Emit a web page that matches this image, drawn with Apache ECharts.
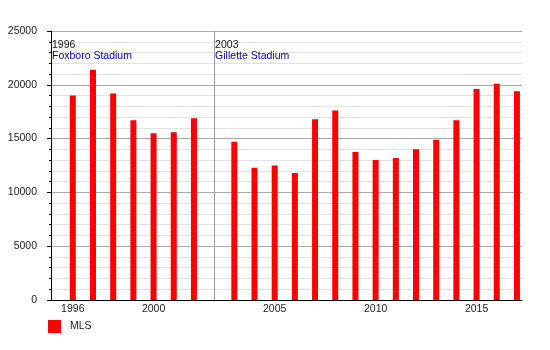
<!DOCTYPE html>
<html><head><meta charset="utf-8">
<script src="https://cdn.jsdelivr.net/npm/echarts@6/dist/echarts.min.js"></script>
<style>html,body{margin:0;padding:0;background:#fff}#c{width:550px;height:350px}</style>
</head><body><div id="c"></div>
<script>
const years = [1996,1997,1998,1999,2000,2001,2002,2003,2004,2005,2006,2007,2008,2009,2010,2011,2012,2013,2014,2015,2016,2017];
const attendance = [19000,21400,19200,16700,15500,15600,16900,14700,12300,12500,11800,16800,17600,13750,13000,13200,14000,14900,16700,19600,20100,19400];
const xTickYears = [1996,2000,2005,2010,2015];
const yTicks = [0,5000,10000,15000,20000,25000];
const markerYears = [1996,2003];
const markerNames = ['Foxboro Stadium','Gillette Stadium'];
const seriesName = 'MLS';
const gapYear = 2003;

const FONT = '"Liberation Sans", Arial, sans-serif';
const FS = 10.5;
function slot(y){ return y - years[0] + (y >= gapYear ? 1 : 0); }
const xMin = -1.08, xMax = 22.25;

const chart = echarts.init(document.getElementById('c'), null, {renderer:'canvas'});
chart.setOption({
  animation:false,
  textStyle:{fontFamily:FONT},
  grid:{left:51,right:28,top:31,bottom:50},
  legend:{show:true,left:48,top:320,padding:0,itemWidth:13,itemHeight:13,icon:'rect',
    data:[seriesName],textStyle:{fontSize:FS,color:'#222',fontFamily:FONT,padding:[0,0,0,4]}},
  xAxis:{type:'value',min:xMin,max:xMax,
    splitLine:{show:false},
    axisLine:{show:true,onZero:false,lineStyle:{color:'#000',width:1}},
    axisTick:{show:false},
    axisLabel:{customValues:xTickYears.map(slot),margin:4,fontSize:FS,color:'#222',fontFamily:FONT,
      formatter:v=>{const y=years.find(yy=>slot(yy)===v);return y===undefined?'':String(y);}}
  },
  yAxis:{type:'value',min:yTicks[0],max:yTicks[yTicks.length-1],interval:yTicks[1]-yTicks[0],
    axisLine:{show:true,onZero:false,lineStyle:{color:'#000',width:1}},
    axisTick:{show:true,length:4,lineStyle:{color:'#000'}},
    minorTick:{show:true,splitNumber:5,length:2,lineStyle:{color:'#000'}},
    splitLine:{show:true,lineStyle:{color:'#aaaaaa',width:1}},
    minorSplitLine:{show:true,lineStyle:{color:'#e2e2e2',width:1}},
    axisLabel:{margin:14,fontSize:FS,color:'#222',fontFamily:FONT,formatter:v=>String(v)}
  },
  series:[{
    name:seriesName,type:'bar',barWidth:6,
    itemStyle:{color:'#ff0000'},
    data:years.map((y,i)=>[slot(y),attendance[i]]),
    markLine:{silent:true,symbol:'none',animation:false,
      label:{show:false},
      lineStyle:{color:'#999999',type:'solid',width:1},
      data:markerYears.slice(1).map(y=>({xAxis:slot(y)-1}))
    }
  }]
});

const graphics = [];
markerYears.forEach((y,i)=>{
  const xv = i===0 ? xMin : slot(y)-1;
  const px = chart.convertToPixel({gridIndex:0},[xv,0])[0];
  graphics.push({type:'text',silent:true,style:{text:String(y),x:px+1,y:45,fill:'#111',font:FS+'px '+FONT,align:'left',verticalAlign:'middle'}});
  graphics.push({type:'text',silent:true,style:{text:markerNames[i],x:px+1,y:56,fill:'#0000b0',font:FS+'px '+FONT,align:'left',verticalAlign:'middle'}});
});
chart.setOption({graphic:graphics});
</script>
</body></html>
